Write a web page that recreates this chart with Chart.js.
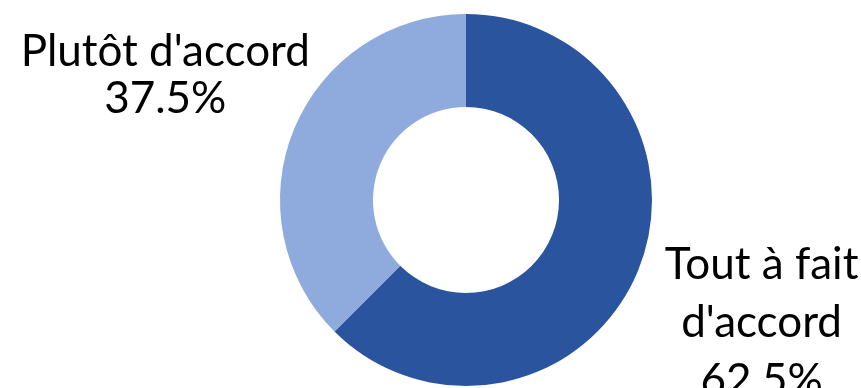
<!DOCTYPE html>
<html>
<head>
<meta charset="utf-8">
<script src="https://cdn.jsdelivr.net/npm/chart.js@4"></script>
<style>
  html, body { margin: 0; padding: 0; background: #fff; }
  #wrap { width: 861px; height: 388px; }
</style>
</head>
<body>
<div id="wrap"><canvas id="donut"></canvas></div>
<script>
// Data
const labels = ["Tout à fait d'accord", "Plutôt d'accord"];
const labelLines = [["Tout à fait", "d'accord", "62.5%"], ["Plutôt d'accord", "37.5%"]];
const values = [62.5, 37.5];
const colors = ["#2A549E", "#8FAADC"];

// draws the outside labels along each slice's middle angle
const outsideLabels = {
  id: "outsideLabels",
  afterDraw(chart, args, opts) {
    const ctx = chart.ctx;
    const meta = chart.getDatasetMeta(0);
    ctx.save();
    ctx.font = opts.font;
    ctx.fillStyle = "#000";
    ctx.textAlign = "center";
    ctx.textBaseline = "middle";
    meta.data.forEach((arc, i) => {
      const p = arc.getProps(["x", "y", "startAngle", "endAngle", "outerRadius"], true);
      const mid = (p.startAngle + p.endAngle) / 2;
      const r = p.outerRadius * opts.distance[i];
      const cx = p.x + Math.cos(mid) * r;
      const cy = p.y + Math.sin(mid) * r;
      const lines = labelLines[i];
      const lh = opts.lineHeight[i];
      const top = cy - (lines.length - 1) * lh / 2;
      lines.forEach((t, j) => ctx.fillText(t, cx, top + j * lh));
    });
    ctx.restore();
  }
};

new Chart(document.getElementById("donut"), {
  type: "doughnut",
  data: {
    labels: labels,
    datasets: [{
      data: values,
      backgroundColor: colors,
      borderWidth: 0
    }]
  },
  options: {
    responsive: true,
    maintainAspectRatio: false,
    animation: false,
    cutout: "50%",
    layout: { padding: { left: 280, right: 209, top: 14, bottom: 2 } },
    plugins: {
      legend: { display: false },
      tooltip: { enabled: false },
      outsideLabels: {
        font: "44px Lato",
        distance: [1.72, 1.75],
        lineHeight: [58, 47]
      }
    }
  },
  plugins: [outsideLabels]
});
</script>
</body>
</html>
